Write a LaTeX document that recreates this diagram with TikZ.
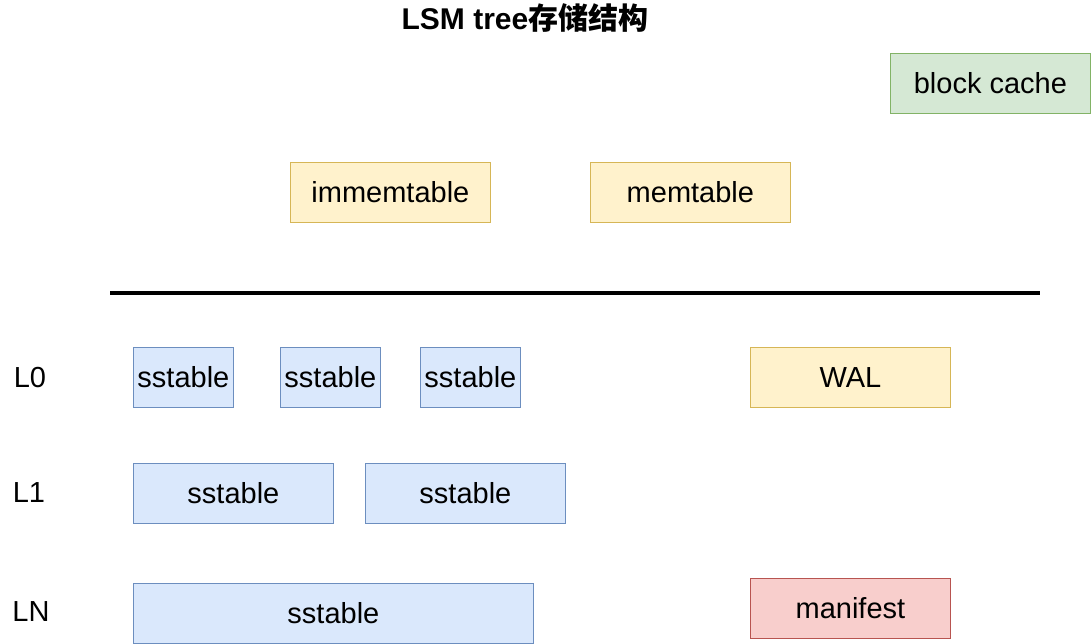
\documentclass[tikz,border=0pt]{standalone}
\usepackage{fontspec}
\setmainfont{Liberation Sans}
\newfontfamily\cjk{Noto Sans CJK SC}
\definecolor{bfill}{HTML}{DAE8FC}\definecolor{bline}{HTML}{6C8EBF}
\definecolor{yfill}{HTML}{FFF2CC}\definecolor{yline}{HTML}{D6B656}
\definecolor{gfill}{HTML}{D5E8D4}\definecolor{gline}{HTML}{82B366}
\definecolor{rfill}{HTML}{F8CECC}\definecolor{rline}{HTML}{B85450}
\begin{document}
\begin{tikzpicture}[x=1pt,y=-1pt,
  box/.style={draw, line width=0.8pt, inner sep=0pt, anchor=north west,
    font=\fontsize{29}{33}\selectfont},
  blue/.style={box, fill=bfill, draw=bline},
  yel/.style={box, fill=yfill, draw=yline},
  grn/.style={box, fill=gfill, draw=gline},
  red/.style={box, fill=rfill, draw=rline},
  lvl/.style={font=\fontsize{29}{33}\selectfont, inner sep=0pt}]
\useasboundingbox (0,0) rectangle (1091,644);
\node[font=\bfseries\fontsize{30}{35}\selectfont, inner sep=0pt] (title) at (525,18) {LSM tree{\cjk 存储结构}};
\node[grn, minimum width=200pt, minimum height=60pt] (bc) at (890,53) {block cache};
\node[yel, minimum width=200pt, minimum height=60pt] (imm) at (290,162) {immemtable};
\node[yel, minimum width=200pt, minimum height=60pt] (mem) at (590,162) {memtable};
\coordinate (la) at (110,293);
\coordinate (lb) at (1040,293);
\draw[line width=4pt] (la) -- (lb);
\node[lvl] (l0) at (30,378) {L0};
\node[lvl] (l1) at (29,493) {L1};
\node[lvl] (ln) at (31,612) {LN};
\node[blue, minimum width=100pt, minimum height=60pt] (s1) at (133,347) {sstable};
\node[blue, minimum width=100pt, minimum height=60pt] (s2) at (280,347) {sstable};
\node[blue, minimum width=100pt, minimum height=60pt] (s3) at (420,347) {sstable};
\node[yel, minimum width=200pt, minimum height=60pt] (wal) at (750,347) {WAL};
\node[blue, minimum width=200pt, minimum height=60pt] (s4) at (133,463) {sstable};
\node[blue, minimum width=200pt, minimum height=60pt] (s5) at (365,463) {sstable};
\node[blue, minimum width=400pt, minimum height=60pt] (s6) at (133,583) {sstable};
\node[red, minimum width=200pt, minimum height=60pt] (man) at (750,578) {manifest};
\end{tikzpicture}
\end{document}
